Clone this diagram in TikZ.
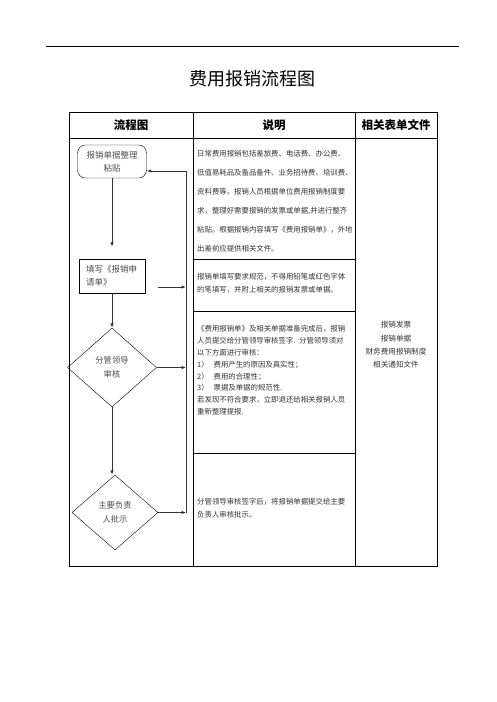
\documentclass[tikz,border=0pt]{standalone}
\usepackage{fontspec}
\setmainfont{Noto Sans CJK SC}
\usetikzlibrary{shapes.geometric,arrows.meta}
\tikzset{
  stepbox/.style={draw,thin,minimum width=66pt,minimum height=34pt,inner xsep=7pt,
    text width=52pt,align=left,font=\fontsize{8.5}{13}\selectfont,text=black!70},
  roundbox/.style={stepbox,rounded corners=8pt,minimum width=69pt,minimum height=33pt,align=center},
  checkbox/.style={draw,thin,diamond,inner sep=0pt,align=center,
    font=\fontsize{8.3}{14}\selectfont,text=black!70},
  arr/.style={-{Latex[length=4.5pt,width=3.5pt]},line width=1pt,black!80},
  body/.style={anchor=north west,inner sep=0pt,text width=160pt,align=left,text=black!80},
  head/.style={font=\fontsize{11.5}{14}\selectfont\bfseries}
}
\begin{document}
\begin{tikzpicture}[x=1pt,y=-1pt]
  \useasboundingbox (0,0) rectangle (496,702);
  % Title and rule
  \draw[line width=0.8pt] (46,46) -- (459,46);
  \node (title) at (252,79) {\fontsize{18}{20}\selectfont 费用报销流程图};

  % Table frame
  \draw[line width=0.8pt] (69,112) rectangle (437,566);
  \draw[line width=0.8pt] (69,138) -- (437,138);
  \foreach \x in {193,355} {
    \draw[line width=0.8pt] (\x,112) -- (\x,566);
  }
  \foreach \y in {259,311,453} {
    \draw[line width=0.8pt] (193,\y) -- (355,\y);
  }
  \node[head] (h1) at (131,125) {流程图};
  \node[head] (h2) at (274,125) {说明};
  \node[head] (h3) at (396,125) {相关表单文件};

  % Flow chart
  \node[roundbox] (proc1) at (112,161.5) {报销单据整理\\粘贴};
  \node[stepbox] (proc2) at (112,276) {填写《报销申\\请单》};
  \node[checkbox,minimum width=89pt,minimum height=79pt] (chk1) at (112,367.5) {分管领导\\审核};
  \node[checkbox,minimum width=86pt,minimum height=75pt] (chk2) at (115,512.5) {主要负责\\人批示};
  \coordinate (fbtop) at (186,171);

  \draw[arr,shorten >=12pt] (proc1.south) -- (proc1.south |- proc2.north);
  \draw[arr] (proc2.south) -- (chk1.north);
  \draw[arr] (chk1.south) -- (chk1.south |- chk2.north);
  \draw[arr] ([xshift=13pt,yshift=-11pt]proc2.east) -- ([yshift=-11pt]proc2.east -| fbtop);
  \draw[arr] (chk1.east) -- (chk1.east -| fbtop);
  \draw[arr] (chk2.east) -- (chk2.east -| fbtop);
  \draw[arr] (chk2.east -| fbtop) -- (fbtop) -- (fbtop -| proc1.east);

  % Descriptions
  \node[body,font=\fontsize{7.4}{19}\selectfont] (d1) at (197,150.4) {%
    日常费用报销包括差旅费、电话费、办公费、\\
    低值易耗品及备品备件、业务招待费、培训费、\\
    资料费等。报销人员根据单位费用报销制度要\\
    求，整理好需要报销的发票或单据,并进行整齐\\
    粘贴。根据报销内容填写《费用报销单》，外地\\
    出差前应提供相关文件。};
  \node[body,font=\fontsize{7.4}{13}\selectfont] (d2) at (197,273.4) {%
    报销单填写要求规范，不得用铅笔或红色字体\\
    的笔填写，并附上相关的报销发票或单据。};
  \node[body,font=\fontsize{7.4}{11.8}\selectfont] (d3) at (197,325.4) {%
    《费用报销单》及相关单据准备完成后，报销\\
    人员提交给分管领导审核签字. 分管领导须对\\
    以下方面进行审核：\\
    1）\ \ 费用产生的原因及真实性；\\
    2）\ \ 费用的合理性；\\
    3）\ \ 票据及单据的规范性.\\
    若发现不符合要求，立即退还给相关报销人员\\
    重新整理提报.};
  \node[body,font=\fontsize{7.4}{13}\selectfont] (d4) at (197,498.4) {%
    分管领导审核签字后，将报销单据提交给主要\\
    负责人审核批示。};

  % Related forms
  \node[align=center,inner sep=0pt,text=black!80,font=\fontsize{7.6}{13.3}\selectfont] (forms) at (396,345)
    {报销发票\\报销单据\\财务费用报销制度\\相关通知文件};
\end{tikzpicture}
\end{document}
